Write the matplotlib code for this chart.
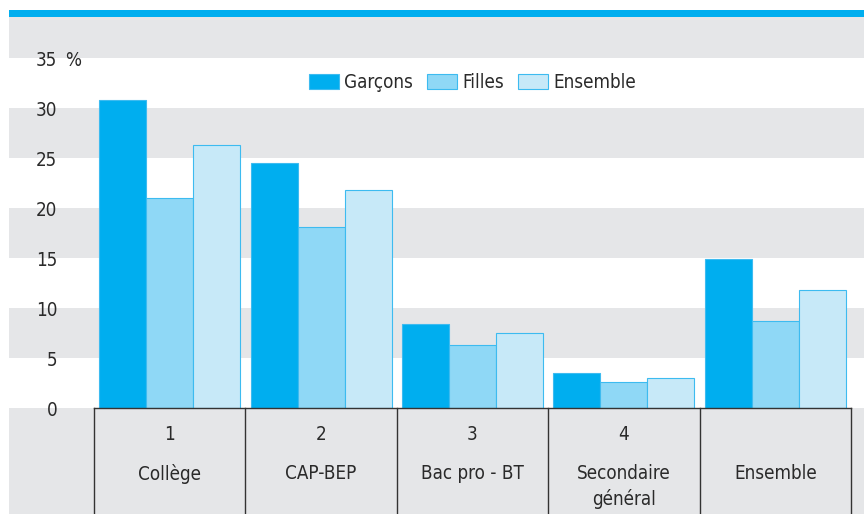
import numpy as np
import matplotlib.pyplot as plt

plt.rcParams['font.family'] = ['DejaVu Sans']
plt.rcParams['font.stretch'] = 'condensed'

categories = ['Collège', 'CAP-BEP', 'Bac pro - BT', 'Secondaire\ngénéral', 'Ensemble']
numbers = ['1', '2', '3', '4', '']
series = ['Garçons', 'Filles', 'Ensemble']
garcons = [30.8, 24.5, 8.4, 3.5, 14.9]
filles = [21.0, 18.1, 6.3, 2.6, 8.7]
ensemble = [26.3, 21.8, 7.5, 3.0, 11.8]
yticks = [0, 5, 10, 15, 20, 25, 30, 35]

colors = ['#00AEEF', '#8FD8F6', '#C7E9F8']
edge = '#3DBBF0'
gray = '#E5E6E8'
txt = '#2a2a2a'
fs = 13.5

W, H = 864, 514
fig = plt.figure(figsize=(W / 100, H / 100), dpi=100)

# pixel geometry
y0px, px_per_unit = 408, 10
bottom_val = (y0px - H) / px_per_unit
top_val = (y0px - 10) / px_per_unit
blue_val = (y0px - 17) / px_per_unit

# background bands
bg = fig.add_axes([9 / W, 0, 1 - 9 / W, 1 - 10 / H])
bg.set_xlim(0, 1)
bg.set_ylim(bottom_val, top_val)
bg.axis('off')
bg.axhspan(blue_val, top_val, color='#00AEEF', lw=0)
bg.axhspan(yticks[-1], blue_val, color=gray, lw=0)
bg.axhspan(bottom_val, 0, color=gray, lw=0)
for i in range(len(yticks) - 1):
    if i % 2 == 1:
        bg.axhspan(yticks[i], yticks[i + 1], color=gray, lw=0)

ax = fig.add_axes([94 / W, 1 - y0px / H, (851 - 94) / W, 35 * px_per_unit / H])
ax.patch.set_alpha(0)
n = len(categories)
x = np.arange(n) + 0.5
bw = 47 / (851 - 94) * n
for k, vals in enumerate([garcons, filles, ensemble]):
    ax.bar(x + (k - 1) * bw, vals, width=bw, color=colors[k], edgecolor=edge,
           linewidth=0.8, label=series[k])

ax.set_xlim(0, n)
ax.set_ylim(0, 35)
for s in ax.spines.values():
    s.set_visible(False)
ax.set_xticks([])
ax.set_yticks(yticks)
ax.set_yticklabels([str(t) for t in yticks], fontsize=fs, color=txt)
ax.tick_params(axis='y', length=0, pad=26.5)
ax.text(-29 / 151.4, 35, '%', fontsize=fs, color=txt, va='center_baseline', ha='left')

# table under the axis
ax.plot([0, n], [0, 0], color='#333333', lw=1, clip_on=False)
for i in range(n + 1):
    ax.plot([i, i], [0, bottom_val], color='#333333', lw=1, clip_on=False)
for i in range(n):
    if numbers[i]:
        ax.text(x[i], -2.7, numbers[i], ha='center', va='center', fontsize=fs,
                color=txt, clip_on=False)
    ax.text(x[i], -5.6, categories[i], ha='center', va='top', fontsize=fs,
            color=txt, linespacing=1.4, clip_on=False)

leg = ax.legend(loc='center', bbox_to_anchor=(0.5, 0.93), ncol=3, frameon=False,
                fontsize=fs, handlelength=1.6, handleheight=0.8, handletextpad=0.27,
                columnspacing=0.75)
for t in leg.get_texts():
    t.set_color(txt)

fig.savefig('out.png', dpi=100)
